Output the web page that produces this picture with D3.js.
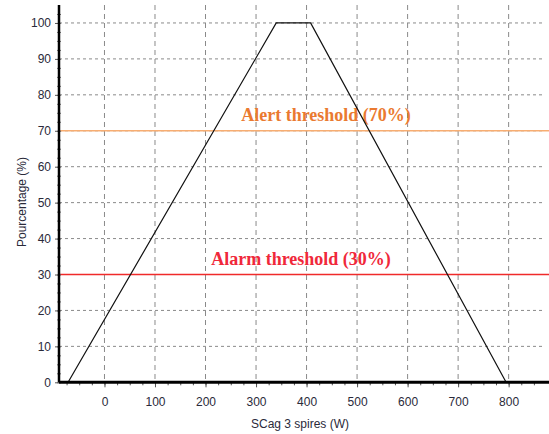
<!DOCTYPE html>
<html><head><meta charset="utf-8">
<script src="https://cdn.jsdelivr.net/npm/d3@7"></script>
<style>body{margin:0;background:#fff}</style>
</head><body>
<svg id="c" width="549" height="434"></svg>
<script>
const curveX = [-72, 340, 408, 795];
const curveY = [0, 100, 100, 0];
const xTicks = [0, 100, 200, 300, 400, 500, 600, 700, 800];
const yTicks = [0, 10, 20, 30, 40, 50, 60, 70, 80, 90, 100];
const thresholdValues = [70, 30];
const thresholdLabels = ["Alert threshold (70%)", "Alarm threshold (30%)"];
const xTitle = "SCag 3 spires (W)";
const yTitle = "Pourcentage (%)";

const svg = d3.select("#c");
const x = d3.scaleLinear().domain([-90, 870]).range([59, 544]);
const y = d3.scaleLinear().domain([0, 105]).range([382.3, 5]);

// grid
const g = svg.append("g");
g.selectAll(".vg").data(xTicks).join("line")
  .attr("x1", d => x(d)).attr("x2", d => x(d)).attr("y1", y(105)).attr("y2", y(0))
  .attr("stroke", "#8a8a8a").attr("stroke-dasharray", "5,4").attr("stroke-width", 1);
g.selectAll(".hg").data(yTicks.filter(d => d > 0)).join("line")
  .attr("x1", x(-90)).attr("x2", x(870)).attr("y1", d => y(d)).attr("y2", d => y(d))
  .attr("stroke", "#8a8a8a").attr("stroke-dasharray", "3,3").attr("stroke-width", 1);

// thresholds
const thColors = ["#f7ad72", "#f02a2a"];
const labColors = ["#ea7a30", "#f0283a"];
const labX = [326, 301];
const labY = [121, 265];
thresholdValues.forEach((v, i) => {
  svg.append("line").attr("x1", x(-90)).attr("x2", 549).attr("y1", y(v)).attr("y2", y(v))
    .attr("stroke", thColors[i]).attr("stroke-width", 1.5);
  svg.append("text").attr("x", labX[i]).attr("y", labY[i]).attr("text-anchor", "middle")
    .attr("font-family", "Liberation Serif, Times New Roman, serif").attr("font-weight", "bold")
    .attr("font-size", 18).attr("fill", labColors[i]).text(thresholdLabels[i]);
});

// curve
const pts = curveX.map((d, i) => [d, curveY[i]]);
svg.append("path").datum(pts)
  .attr("d", d3.line().x(d => x(d[0])).y(d => y(d[1])))
  .attr("fill", "none").attr("stroke", "#111").attr("stroke-width", 1.2);

// axes
const xMinor = d3.range(-75, 870, 25);
const yMinor = d3.range(0, 105, 2.5);
const xa = svg.append("g").attr("transform", `translate(0,${y(0)})`)
  .call(d3.axisBottom(x).tickValues(xMinor).tickSize(3).tickFormat(""));
xa.select(".domain").remove();
xa.selectAll("line").attr("stroke", "#555");
const xa2 = svg.append("g").attr("transform", `translate(0,${y(0)})`)
  .call(d3.axisBottom(x).tickValues(xTicks).tickSize(5).tickPadding(10));
xa2.select(".domain").remove();
xa2.selectAll("line").attr("stroke", "#555");
xa2.selectAll("text").attr("font-family", "Liberation Sans, Arial, sans-serif").attr("font-size", 12).attr("fill", "#2a2a3a");

const ya = svg.append("g").attr("transform", `translate(${x(-90)},0)`)
  .call(d3.axisLeft(y).tickValues(yMinor).tickSize(3).tickFormat(""));
ya.select(".domain").remove();
ya.selectAll("line").attr("stroke", "#777").attr("x2", 2).attr("x1", -2);
const ya2 = svg.append("g").attr("transform", `translate(${x(-90)},0)`)
  .call(d3.axisLeft(y).tickValues(yTicks).tickSize(4).tickPadding(4));
ya2.select(".domain").remove();
ya2.selectAll("line").attr("stroke", "#555");
ya2.selectAll("text").attr("font-family", "Liberation Sans, Arial, sans-serif").attr("font-size", 12).attr("fill", "#2a2a3a");

// axis lines
svg.append("line").attr("x1", x(-90)).attr("x2", 549).attr("y1", y(0)).attr("y2", y(0))
  .attr("stroke", "#000").attr("stroke-width", 3);
svg.append("line").attr("x1", x(-90)).attr("x2", x(-90)).attr("y1", y(105)).attr("y2", y(0))
  .attr("stroke", "#000").attr("stroke-width", 2.5);

// titles
svg.append("text").attr("x", 300).attr("y", 428).attr("text-anchor", "middle")
  .attr("font-family", "Liberation Sans, Arial, sans-serif").attr("font-size", 12).attr("fill", "#2a2a3a").text(xTitle);
svg.append("text").attr("transform", "translate(26,202) rotate(-90)").attr("text-anchor", "middle")
  .attr("font-family", "Liberation Sans, Arial, sans-serif").attr("font-size", 12).attr("fill", "#2a2a3a").text(yTitle);
</script>
</body></html>
